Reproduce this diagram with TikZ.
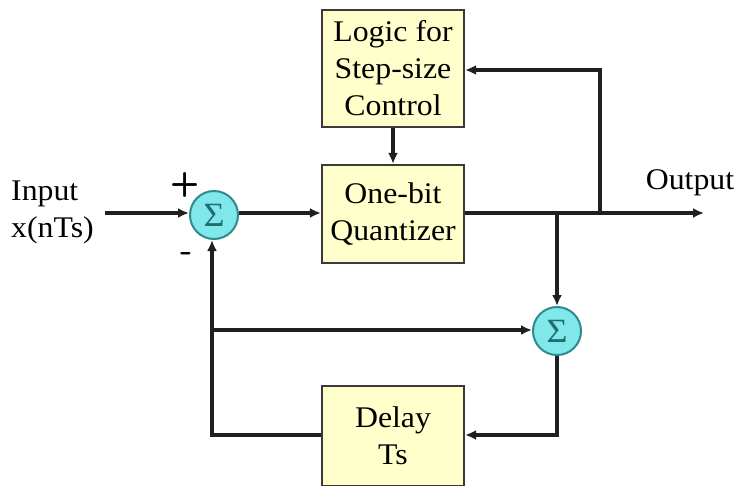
\documentclass[tikz,border=0pt]{standalone}
\usepackage{fontspec}
\setmainfont{Liberation Serif}[FakeStretch=1.06]
\usetikzlibrary{arrows.meta}
\definecolor{boxfill}{HTML}{FFFFCC}
\definecolor{boxline}{HTML}{3A3A3A}
\definecolor{sumfill}{HTML}{80E8EA}
\definecolor{sumline}{HTML}{2E8A8C}
\definecolor{sigcol}{HTML}{1E6E70}
\tikzset{
  blockbox/.style={draw=boxline, line width=2.2pt, fill=boxfill, minimum width=142pt, align=center, inner sep=0pt,
    font=\fontsize{30}{37}\selectfont},
  sumnode/.style={circle, draw=sumline, line width=2pt, fill=sumfill, minimum size=48pt, inner sep=0pt,
    font=\fontsize{34}{34}\selectfont\color{sigcol}},
  conn/.style={line width=3.2pt, draw=black!88, -{Latex[length=11pt,width=10pt]}},
  lbl/.style={font=\fontsize{30}{37}\selectfont, inner sep=0pt, align=left}
}
\begin{document}
\begin{tikzpicture}[x=1pt,y=-1pt]
\useasboundingbox (0,0) rectangle (738,485);
% blocks
\node[blockbox, minimum height=117pt] (logic) at (393,68.5) {Logic for\\Step-size\\Control};
\node[blockbox, minimum height=98pt] (quant) at (393,214) {One-bit\\Quantizer};
\node[blockbox, minimum height=100pt] (delay) at (393,436) {Delay\\Ts};
% summing junctions
\node[sumnode] (s1) at (214,215) {Σ};
\node[sumnode] (s2) at (557,331) {Σ};
% labels
\node[lbl, anchor=west] (inp) at (11,212) {Input\\x(nTs)};
\node[lbl] (outl) at (690,183) {Output};
\node[font=\fontsize{34}{34}\selectfont\sffamily\bfseries, inner sep=0pt] (plus) at (185,185) {+};
\node[font=\fontsize{34}{34}\selectfont\sffamily\bfseries, inner sep=0pt] (minus) at (187,257) {-};
% coordinates
\coordinate (inS) at (105,213);
\coordinate (outE) at (704,213);
\coordinate (br1) at (600,213);
\coordinate (br1top) at (600,70);
\coordinate (br2) at (557,213);
\coordinate (dR) at (557,435);
\coordinate (dL) at (212,435);
\coordinate (jn) at (212,330);
% connectors
\draw[conn] (inS) -- (s1.west |- inS);
\draw[conn] (s1.east |- 0,213) -- (quant.west |- 0,213);
\draw[conn] (quant.east |- 0,213) -- (outE);
\draw[conn] (br1) -- (br1top) -- (logic.east |- br1top);
\draw[conn] (logic.south) -- (quant.north);
\draw[conn] (br2) -- (s2.north);
\draw[conn] (s2.south) -- (dR) -- (delay.east |- dR);
\draw[conn] (delay.west |- dL) -- (dL) -- (s1.south -| dL);
\draw[conn] (jn) -- (s2.west |- jn);
\end{tikzpicture}
\end{document}
